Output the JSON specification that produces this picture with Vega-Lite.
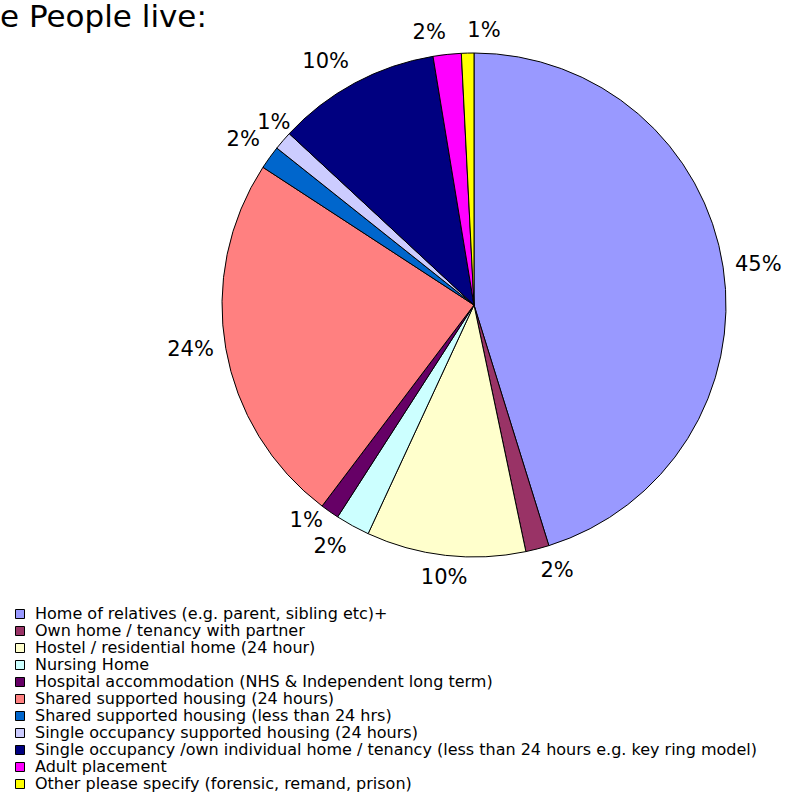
{
  "$schema": "https://vega.github.io/schema/vega-lite/v6.json",
  "width": 504,
  "height": 504,
  "autosize": {"type": "none"},
  "padding": {"left": 222, "top": 53, "right": 61, "bottom": 235},
  "background": "white",
  "title": {
    "text": "e People live:",
    "anchor": "start",
    "frame": "group",
    "font": "DejaVu Sans",
    "fontSize": 31,
    "fontWeight": "normal",
    "color": "black",
    "baseline": "top",
    "dx": -222,
    "dy": 33,
    "offset": 19
  },
  "data": {
    "values": [
      {"i": 1, "category": "Home of relatives (e.g. parent, sibling etc)+", "value": 45.2, "label": "45%"},
      {"i": 2, "category": "Own home / tenancy with partner", "value": 1.5, "label": "2%"},
      {"i": 3, "category": "Hostel / residential home (24 hour)", "value": 10.2, "label": "10%"},
      {"i": 4, "category": "Nursing Home", "value": 2.2, "label": "2%"},
      {"i": 5, "category": "Hospital accommodation (NHS & Independent long term)", "value": 1.2, "label": "1%"},
      {"i": 6, "category": "Shared supported housing (24 hours)", "value": 23.9, "label": "24%"},
      {"i": 7, "category": "Shared supported housing (less than 24 hrs)", "value": 1.5, "label": "2%"},
      {"i": 8, "category": "Single occupancy supported housing (24 hours)", "value": 1.2, "label": "1%"},
      {"i": 9, "category": "Single occupancy /own individual home / tenancy (less than 24 hours e.g. key ring model)", "value": 10.5, "label": "10%"},
      {"i": 10, "category": "Adult placement", "value": 1.8, "label": "2%"},
      {"i": 11, "category": "Other please specify (forensic, remand, prison)", "value": 0.8, "label": "1%"}
    ]
  },
  "encoding": {
    "theta": {"field": "value", "type": "quantitative", "stack": true},
    "order": {"field": "i", "type": "quantitative"}
  },
  "layer": [
    {
      "mark": {"type": "arc", "stroke": "black", "strokeWidth": 1, "outerRadius": 252},
      "encoding": {
        "color": {
          "field": "category",
          "type": "nominal",
          "sort": null,
          "scale": {
            "domain": [
              "Home of relatives (e.g. parent, sibling etc)+",
              "Own home / tenancy with partner",
              "Hostel / residential home (24 hour)",
              "Nursing Home",
              "Hospital accommodation (NHS & Independent long term)",
              "Shared supported housing (24 hours)",
              "Shared supported housing (less than 24 hrs)",
              "Single occupancy supported housing (24 hours)",
              "Single occupancy /own individual home / tenancy (less than 24 hours e.g. key ring model)",
              "Adult placement",
              "Other please specify (forensic, remand, prison)"
            ],
            "range": ["#9999FF", "#993366", "#FFFFCC", "#CCFFFF", "#660066", "#FF8080", "#0066CC", "#CCCCFF", "#000080", "#FF00FF", "#FFFF00"]
          },
          "legend": {
            "title": null,
            "orient": "none",
            "legendX": -210,
            "legendY": 553,
            "padding": 0,
            "symbolType": "square",
            "symbolSize": 81,
            "symbolStrokeColor": "black",
            "symbolStrokeWidth": 1,
            "labelFont": "DejaVu Sans",
            "labelFontSize": 16,
            "labelColor": "black",
            "labelLimit": 800,
            "labelOffset": 7,
            "rowPadding": 1
          }
        }
      }
    },
    {
      "mark": {
        "type": "text",
        "radius": 264,
        "font": "DejaVu Sans",
        "fontSize": 21,
        "color": "black",
        "align": {"expr": "datum.i <= 2 || datum.i == 11 ? 'left' : datum.i == 3 || datum.i == 8 ? 'center' : 'right'"},
        "baseline": {"expr": "datum.i == 1 || datum.i == 6 || datum.i == 5 ? 'middle' : datum.i <= 4 ? 'top' : 'bottom'"}
      },
      "encoding": {
        "text": {"field": "label", "type": "nominal"}
      }
    }
  ]
}
